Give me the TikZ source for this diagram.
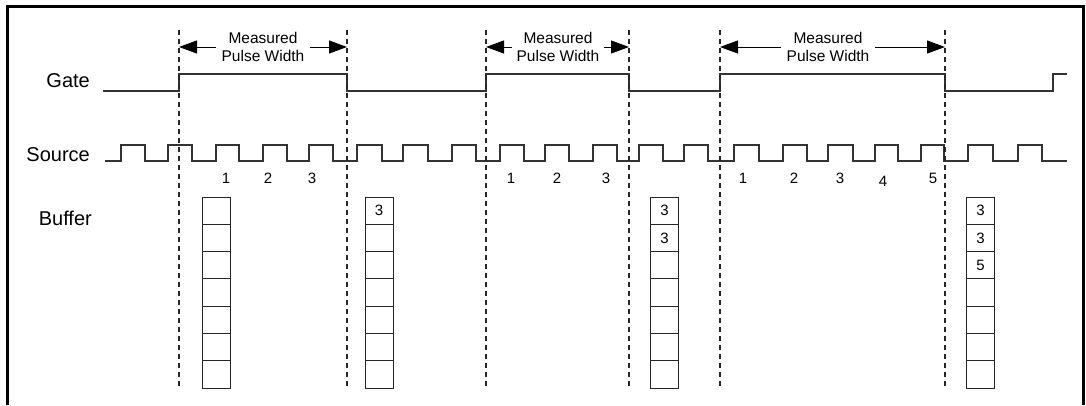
\documentclass[tikz,border=0pt]{standalone}
\usepackage{fontspec}
\setmainfont{Liberation Sans}
\usetikzlibrary{arrows.meta}
\begin{document}
\begin{tikzpicture}
  [x=1pt,y=-1pt,every node/.style={inner sep=0pt},
   wave/.style={line width=1.3pt,draw=black!80},
   marker/.style={line width=1.1pt,draw=black!85,dash pattern=on 5pt off 4pt},
   lbl/.style={font=\fontsize{20}{22}\selectfont},
   note/.style={font=\fontsize{15.5}{18.5}\selectfont,align=center},
   num/.style={font=\fontsize{15}{17}\selectfont},
   cell/.style={draw=black!85,line width=1pt,minimum width=28pt,minimum height=27.3pt},
   span/.style={line width=1pt,-{Triangle[length=18pt,width=13pt]}}]
\useasboundingbox (0,0) rectangle (1086,405);
\draw[line width=3pt] (7,405) -- (7,6.5) -- (1083,6.5) -- (1083,405);

% row labels
\node[lbl,anchor=east] (gate) at (90,81) {Gate};
\node[lbl,anchor=east] (source) at (90,155) {Source};
\node[lbl,anchor=east] (buffer) at (92,218) {Buffer};

% gate signal
\draw[wave] (103,91) -- (179,91) -- (179,74) -- (347,74) -- (347,91)
  -- (486,91) -- (486,74) -- (629,74) -- (629,91) -- (720,91) -- (720,74)
  -- (945,74) -- (945,91) -- (1053,91) -- (1053,74) -- (1067,74);

% source signal
\draw[wave] (105,161) \foreach \r/\f in {121/145,168/192,216/239,263/287,309/333,
    357/382,403/428,452/476,500/524,545/569,593/617,639/663,684/708,734/759,
    783/807,828/853,875/898,921/944,968/993,1018/1042}
  { -- (\r,161) -- (\r,145) -- (\f,145) -- (\f,161) } -- (1067,161);

% gate edges
\foreach \n/\x in {1/179,2/347,3/486,4/629,5/720,6/945} {
  \coordinate (t\n) at (\x,30);
  \coordinate (b\n) at (\x,388);
  \draw[marker] (t\n) -- (b\n);
}

% measured widths
\node[note] (mpw1) at (263,47) {Measured\\Pulse Width};
\node[note] (mpw2) at (558,47) {Measured\\Pulse Width};
\node[note] (mpw3) at (828,47) {Measured\\Pulse Width};
\draw[span] ([xshift=-5pt]mpw1.west) -- (mpw1.west -| t1);
\draw[span] ([xshift=5pt]mpw1.east) -- (mpw1.east -| t2);
\draw[span] ([xshift=-4pt]mpw2.west) -- (mpw2.west -| t3);
\draw[span] ([xshift=4pt]mpw2.east) -- (mpw2.east -| t4);
\draw[span] ([xshift=-5pt]mpw3.west) -- (mpw3.west -| t5);
\draw[span] ([xshift=5pt]mpw3.east) -- (mpw3.east -| t6);

% source counts
\node[num] (c11) at (226,178) {1};
\node[num] (c12) at (268,178) {2};
\node[num] (c13) at (312,178) {3};
\node[num] (c21) at (511,178) {1};
\node[num] (c22) at (557,178) {2};
\node[num] (c23) at (606,178) {3};
\node[num] (c31) at (743,178) {1};
\node[num] (c32) at (794,178) {2};
\node[num] (c33) at (840,178) {3};
\node[num] (c34) at (883,181) {4};
\node[num] (c35) at (933,178) {5};

% buffers
\foreach \b/\x in {1/216.5,2/379,3/664.5,4/980.5}
  \foreach \k in {1,...,7}
    \node[cell] (buf\b-\k) at (\x,{197+27.3*(\k-0.5)}) {};
\node[num] (v21) at (buf2-1) {3};
\node[num] (v31) at (buf3-1) {3};
\node[num] (v32) at (buf3-2) {3};
\node[num] (v41) at (buf4-1) {3};
\node[num] (v42) at (buf4-2) {3};
\node[num] (v43) at (buf4-3) {5};
\end{tikzpicture}
\end{document}
